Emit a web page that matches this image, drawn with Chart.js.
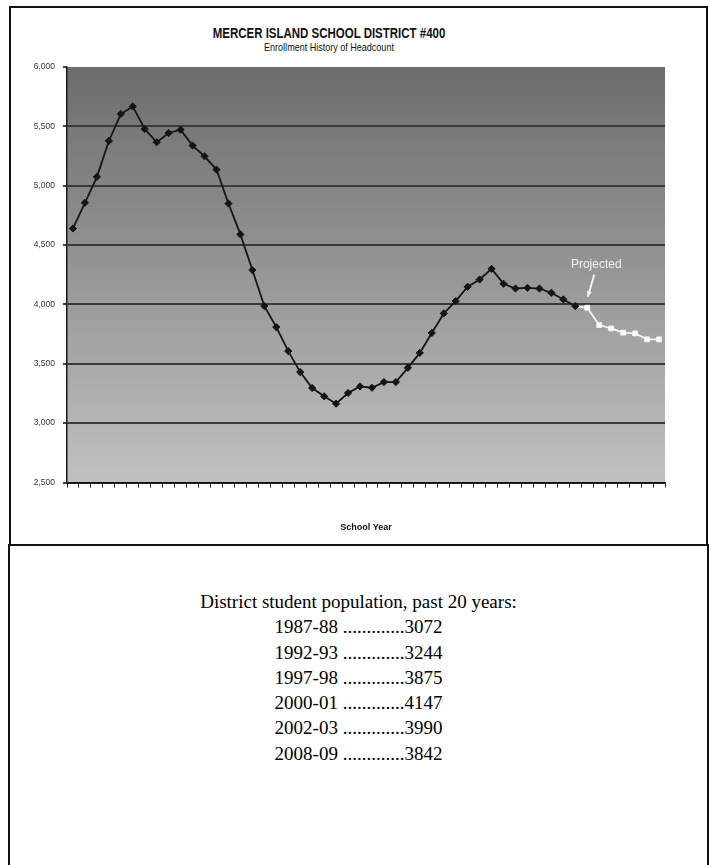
<!DOCTYPE html>
<html lang="en">

<head>
    <meta charset="UTF-8">
    <script src="https://cdn.jsdelivr.net/npm/chart.js"></script>
    <title>Mercer Island School District #400</title>
    <style>
        body {
            margin: 0;
            width: 711px;
            height: 865px;
            background: #fff;
            position: relative;
            overflow: hidden;
        }

        .caixa-grafico {
            position: absolute;
            left: 9px;
            top: 6px;
            width: 699px;
            height: 540px;
            border: 2px solid #111;
            box-sizing: border-box;
        }

        .caixa-texto {
            position: absolute;
            left: 8px;
            top: 544px;
            width: 701px;
            height: 340px;
            border: 2px solid #111;
            box-sizing: border-box;
        }

        #grafico {
            position: absolute;
            left: 0;
            top: 0;
        }

        .titulo {
            position: absolute;
            left: 129px;
            width: 400px;
            text-align: center;
            font-family: "Liberation Sans", Arial, sans-serif;
            color: #111;
            white-space: nowrap;
            transform: scaleX(0.82);
            transform-origin: 50% 50%;
        }

        .t1 {
            top: 25px;
            font-size: 14px;
            font-weight: bold;
        }

        .t2 {
            top: 41px;
            font-size: 11px;
        }

        .populacao {
            position: absolute;
            left: 8px;
            width: 701px;
            top: 589px;
            text-align: center;
            font-family: "Liberation Serif", "Times New Roman", serif;
            font-size: 19px;
            line-height: 25.3px;
            color: #000;
        }

        .populacao p {
            margin: 0;
        }
    </style>
</head>

<body>
    <div class="caixa-grafico"></div>
    <div class="caixa-texto"></div>
    <div class="titulo t1">MERCER ISLAND SCHOOL DISTRICT #400</div>
    <div class="titulo t2">Enrollment History of Headcount</div>
    <canvas id="grafico" width="711" height="545"></canvas>

    <div class="populacao" id="div_populacao"></div>
</body>

</html>

<script>
    const anosEscolares = [
        '1960-61', '1961-62', '1962-63', '1963-64', '1964-65', '1965-66', '1966-67', '1967-68', '1968-69', '1969-70',
        '1970-71', '1971-72', '1972-73', '1973-74', '1974-75', '1975-76', '1976-77', '1977-78', '1978-79', '1979-80',
        '1980-81', '1981-82', '1982-83', '1983-84', '1984-85', '1985-86', '1986-87', '1987-88', '1988-89', '1989-90',
        '1990-91', '1991-92', '1992-93', '1993-94', '1994-95', '1995-96', '1996-97', '1997-98', '1998-99', '1999-00',
        '2000-01', '2001-02', '2002-03', '2003-04', '2004-05', '2005-06', '2006-07', '2007-08', '2008-09', '2009-10'
    ];

    // matriculas reais
    const matriculas = [
        4640, 4856, 5075, 5377, 5604, 5668, 5478, 5366, 5444, 5472,
        5338, 5248, 5136, 4850, 4590, 4290, 3986, 3809, 3607, 3430,
        3296, 3226, 3164, 3254, 3309, 3298, 3346, 3346, 3466, 3592,
        3760, 3924, 4028, 4149, 4210, 4300, 4174, 4134, 4140, 4134,
        4098, 4042, 3986
    ];

    // projecao
    const projetadas = [3972, 3826, 3798, 3762, 3756, 3706, 3706];

    const ticksY = [2500, 3000, 3500, 4000, 4500, 5000, 5500, 6000];

    const anosTabela = ['1987-88', '1992-93', '1997-98', '2000-01', '2002-03', '2008-09'];
    const alunosTabela = [3072, 3244, 3875, 4147, 3990, 3842];

    function montarTabela() {
        let html = `<p>District student population, past 20 years:</p>`;
        anosTabela.forEach((ano, i) => {
            html += `<p>${ano} .............${alunosTabela[i]}</p>`;
        });
        div_populacao.innerHTML = html;
    }
    montarTabela();

    const ultimo = matriculas.length - 1;
    const serieReal = anosEscolares.map((a, i) => i <= ultimo ? matriculas[i] : null);
    const serieProj = anosEscolares.map((a, i) => {
        if (i < ultimo) return null;
        if (i === ultimo) return matriculas[ultimo];
        return projetadas[i - ultimo - 1];
    });

    const fonteEixo = '"Liberation Sans", Arial, sans-serif';

    const fundoGradiente = {
        id: 'fundoGradiente',
        beforeDraw(chart) {
            const { ctx, chartArea } = chart;
            const g = ctx.createLinearGradient(0, chartArea.top, 0, chartArea.bottom);
            g.addColorStop(0, '#6c6c6c');
            g.addColorStop(1, '#c1c1c1');
            ctx.save();
            ctx.fillStyle = g;
            ctx.fillRect(chartArea.left, chartArea.top, chartArea.right - chartArea.left, chartArea.bottom - chartArea.top);
            ctx.restore();
        }
    };

    const rotuloProjetado = {
        id: 'rotuloProjetado',
        afterDatasetsDraw(chart) {
            const ponto = chart.getDatasetMeta(1).data[ultimo + 1];
            if (!ponto) return;
            const ctx = chart.ctx;
            ctx.save();
            ctx.fillStyle = '#f2f2f2';
            ctx.strokeStyle = '#f2f2f2';
            ctx.font = '12px "Liberation Sans", Arial, sans-serif';
            ctx.textAlign = 'center';
            ctx.textBaseline = 'middle';
            ctx.fillText('Projected', ponto.x + 9, ponto.y - 43);
            // seta
            const x1 = ponto.x + 7, y1 = ponto.y - 33;
            const x2 = ponto.x + 0.5, y2 = ponto.y - 11;
            ctx.lineWidth = 2;
            ctx.beginPath();
            ctx.moveTo(x1, y1);
            ctx.lineTo(x2, y2);
            ctx.stroke();
            const ang = Math.atan2(y2 - y1, x2 - x1);
            ctx.beginPath();
            ctx.moveTo(x2, y2);
            ctx.lineTo(x2 - 6 * Math.cos(ang - 0.45), y2 - 6 * Math.sin(ang - 0.45));
            ctx.lineTo(x2 - 6 * Math.cos(ang + 0.45), y2 - 6 * Math.sin(ang + 0.45));
            ctx.closePath();
            ctx.fill();
            ctx.restore();
        }
    };

    const ctx1 = document.getElementById('grafico').getContext('2d');

    const chart1 = new Chart(ctx1, {
        type: 'line',
        data: {
            labels: anosEscolares,
            datasets: [{
                label: 'Headcount',
                data: serieReal,
                borderColor: '#151515',
                backgroundColor: '#151515',
                borderWidth: 1.8,
                pointStyle: 'rectRot',
                pointRadius: 3.6,
                pointBorderWidth: 1,
                tension: 0,
                order: 1
            }, {
                label: 'Projected',
                data: serieProj,
                borderColor: '#f4f4f4',
                backgroundColor: '#ffffff',
                borderWidth: 1.8,
                pointStyle: 'rect',
                pointRadius: (c) => c.dataIndex === ultimo ? 0 : 3.4,
                pointBorderWidth: 1,
                tension: 0,
                order: 2
            }]
        },
        options: {
            responsive: false,
            animation: false,
            devicePixelRatio: 1,
            layout: {
                padding: { left: 0, top: 67, right: 46, bottom: 12 }
            },
            plugins: {
                legend: { display: false },
                tooltip: { enabled: false }
            },
            scales: {
                x: {
                    type: 'category',
                    offset: true,
                    afterFit(scale) { scale.height = 50.5; },
                    ticks: { display: false, autoSkip: false },
                    grid: {
                        offset: true,
                        drawOnChartArea: false,
                        drawTicks: true,
                        tickLength: 5,
                        color: '#222',
                        lineWidth: 1
                    },
                    border: { display: true, color: '#111', width: 1.5 },
                    title: {
                        display: true,
                        text: 'School Year',
                        color: '#111',
                        padding: { top: 0, bottom: 0 },
                        font: { family: fonteEixo, size: 9, weight: 'bold' }
                    }
                },
                y: {
                    min: ticksY[0],
                    max: ticksY[ticksY.length - 1],
                    afterFit(scale) { scale.width = 67; },
                    afterBuildTicks(scale) {
                        scale.ticks = ticksY.map(v => ({ value: v }));
                    },
                    ticks: {
                        color: '#333',
                        padding: 8,
                        font: { family: fonteEixo, size: 8.5 },
                        callback: (v) => v.toLocaleString('en-US')
                    },
                    grid: {
                        color: (c) => (c.tick && c.tick.value === 6000) ? 'rgba(0,0,0,0)' : '#3a3a3a',
                        tickColor: '#444',
                        lineWidth: 2,
                        tickLength: 4
                    },
                    border: { display: true, color: '#1a1a1a', width: 1.5 }
                }
            }
        },
        plugins: [fundoGradiente, rotuloProjetado]
    });
</script>
